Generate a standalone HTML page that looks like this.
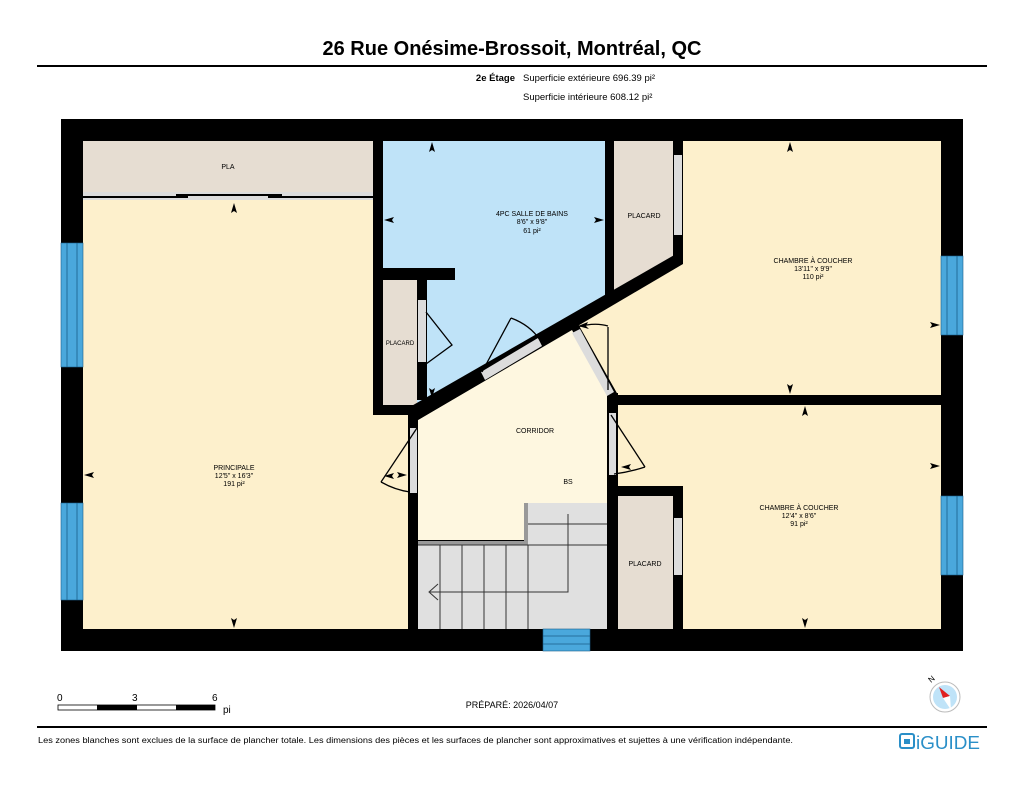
<!DOCTYPE html>
<html><head><meta charset="utf-8"><style>
body{margin:0;background:#fff;width:1024px;height:791px;overflow:hidden;font-family:"Liberation Sans",Arial,sans-serif}
svg{position:absolute;left:0;top:0}
</style></head><body>
<svg width="1024" height="791" viewBox="0 0 1024 791" font-family="Liberation Sans, Arial, sans-serif">
<text x="512" y="55" font-size="20" font-weight="bold" text-anchor="middle">26 Rue Onésime-Brossoit, Montréal, QC</text>
<rect x="37" y="65" width="950" height="2" fill="#000"/>
<text x="515" y="81" font-size="9.5" font-weight="bold" text-anchor="end">2e Étage</text>
<text x="523" y="81" font-size="9.5">Superficie extérieure 696.39 pi²</text>
<text x="523" y="100" font-size="9.5">Superficie intérieure 608.12 pi²</text>

<rect x="61" y="119" width="902" height="532" fill="#000"/>
<rect x="83" y="141" width="290" height="51" fill="#e6ddd2"/>
<rect x="83" y="192" width="290" height="8" fill="#dcdcdc"/>
<rect x="83" y="200" width="325" height="429" fill="#fdf0cc"/>
<rect x="83" y="200" width="290" height="215" fill="#fdf0cc"/>
<polygon points="383,141 605,141 605,296 413,407 413,415 383,415" fill="#bfe3f8"/>
<polygon points="614,141 673,141 673,260 614,292" fill="#e6ddd2"/>
<polygon points="683,141 941,141 941,395 618,395 577,322 683,262" fill="#fdf0cc"/>
<rect x="617" y="405" width="324" height="224" fill="#fdf0cc"/>
<rect x="617" y="496" width="56" height="133" fill="#e6ddd2"/>
<polygon points="418,420 572,330 610,400 610,503 528,503 528,540 418,540" fill="#fef7e0"/>
<polygon points="528,503 610,503 610,629 418,629 418,545 528,545" fill="#e0e0e0"/>
<polyline points="418,543 526,543 526,503" fill="none" stroke="#999" stroke-width="4"/>
<rect x="383" y="280" width="34" height="125" fill="#e6ddd2"/>
<g stroke="#333" stroke-width="1" fill="none">
<line x1="528" y1="524" x2="610" y2="524"/>
<line x1="418" y1="545" x2="610" y2="545"/>
<line x1="440" y1="545" x2="440" y2="629"/>
<line x1="462" y1="545" x2="462" y2="629"/>
<line x1="484" y1="545" x2="484" y2="629"/>
<line x1="506" y1="545" x2="506" y2="629"/>
<line x1="528" y1="545" x2="528" y2="629"/>
<polyline points="568,514 568,592 430,592"/>
<polyline points="438,584 429,592 438,600"/>
</g>
<g fill="#000">
<rect x="373" y="141" width="10" height="274"/>
<rect x="373" y="405" width="45" height="10"/>
<rect x="383" y="268" width="72" height="12"/>
<rect x="417" y="280" width="10" height="120"/>
<rect x="605" y="141" width="9" height="160"/>
<rect x="673" y="141" width="10" height="122"/>
<polygon points="408,408 683,250 683,264 418,420"/>
<rect x="408" y="415" width="10" height="214"/>
<rect x="610" y="395" width="331" height="10"/>
<rect x="607" y="393" width="11" height="236"/>
<rect x="610" y="486" width="73" height="10"/>
<rect x="673" y="486" width="10" height="143"/>
</g>
<g fill="#dcdcdc">
<rect x="674" y="155" width="8" height="80"/>
<rect x="418" y="300" width="8" height="62"/>
<rect x="674" y="518" width="8" height="57"/>
<rect x="410" y="428" width="7" height="65"/>
<rect x="609" y="413" width="7" height="62"/>
<polygon points="481,372 538,338 542,346 485,380"/>
<polygon points="572,333 580,329 614,392 607,396"/>
</g>
<g fill="#4aa8dc" stroke="#1a5f8a" stroke-width="0.6">
<rect x="61" y="243" width="22" height="124"/>
<rect x="61" y="503" width="22" height="97"/>
<rect x="941" y="256" width="22" height="79"/>
<rect x="941" y="496" width="22" height="79"/>
<rect x="543" y="629" width="47" height="22"/>
</g>
<g stroke="#1a5f8a" stroke-width="0.8">
<line x1="67" y1="243" x2="67" y2="367"/><line x1="77" y1="243" x2="77" y2="367"/>
<line x1="67" y1="503" x2="67" y2="600"/><line x1="77" y1="503" x2="77" y2="600"/>
<line x1="947" y1="256" x2="947" y2="335"/><line x1="957" y1="256" x2="957" y2="335"/>
<line x1="947" y1="496" x2="947" y2="575"/><line x1="957" y1="496" x2="957" y2="575"/>
<line x1="543" y1="636" x2="590" y2="636"/><line x1="543" y1="644" x2="590" y2="644"/>
</g>
<rect x="83" y="196" width="290" height="2" fill="#000"/>
<rect x="176" y="194" width="106" height="2" fill="#000"/>
<rect x="188" y="196" width="80" height="3" fill="#dcdcdc"/>
<g stroke="#000" stroke-width="1.3" fill="none">
<polyline points="426,312 452,345 426,364"/>
<line x1="482" y1="372" x2="511" y2="318"/>
<path d="M511,318 Q530,325 540,340"/>
<line x1="417" y1="428" x2="381" y2="482"/>
<path d="M381,482 Q395,490 410,492"/>
<line x1="611" y1="415" x2="645" y2="467"/>
<path d="M645,467 Q630,472 614,474"/>
<line x1="608" y1="327" x2="608" y2="390"/>
<path d="M577,327 Q595,322 608,326"/>
</g>
<g fill="#000">
<polygon points="432,142 429,152 432,150 435,152"/>
<polygon points="384,220 394,217 392,220 394,223"/>
<polygon points="604,220 594,217 596,220 594,223"/>
<polygon points="234,203 231,213 234,211 237,213"/>
<polygon points="84,475 94,472 92,475 94,478"/>
<polygon points="407,475 397,472 399,475 397,478"/>
<polygon points="234,628 231,618 234,620 237,618"/>
<polygon points="790,142 787,152 790,150 793,152"/>
<polygon points="790,394 787,384 790,386 793,384"/>
<polygon points="940,325 930,322 932,325 930,328"/>
<polygon points="805,406 802,416 805,414 808,416"/>
<polygon points="940,466 930,463 932,466 930,469"/>
<polygon points="805,628 802,618 805,620 808,618"/>
<polygon points="432,398 429,388 432,390 435,388"/>
<polygon points="384,476 394,473 392,476 394,479"/>
<polygon points="621,467 631,464 629,467 631,470"/>
<polygon points="578,326 588,322 586,326 589,329"/>
</g>
<g font-size="7" text-anchor="middle" fill="#000">
<text x="228" y="169">PLA</text>
<text x="532" y="216">4PC SALLE DE BAINS</text><text x="532" y="224">8'6" x 9'8"</text><text x="532" y="233">61 pi²</text>
<text x="644" y="218">PLACARD</text>
<text x="400" y="345" font-size="6">PLACARD</text>
<text x="813" y="263">CHAMBRE À COUCHER</text><text x="813" y="271">13'11" x 9'9"</text><text x="813" y="279">110 pi²</text>
<text x="535" y="433">CORRIDOR</text>
<text x="568" y="484">BS</text>
<text x="234" y="470">PRINCIPALE</text><text x="234" y="478">12'5" x 16'3"</text><text x="234" y="486">191 pi²</text>
<text x="799" y="510">CHAMBRE À COUCHER</text><text x="799" y="518">12'4" x 8'6"</text><text x="799" y="526">91 pi²</text>
<text x="645" y="566">PLACARD</text>
</g>
<g font-size="10">
<text x="57" y="701">0</text><text x="132" y="701">3</text><text x="212" y="701">6</text>
<text x="223" y="713">pi</text>
</g>
<rect x="58" y="705" width="157" height="5" fill="#fff" stroke="#000" stroke-width="0.8"/>
<rect x="97" y="705" width="40" height="5" fill="#000"/>
<rect x="176" y="705" width="39" height="5" fill="#000"/>
<text x="512" y="708" font-size="9" text-anchor="middle">PRÉPARÉ: 2026/04/07</text>
<circle cx="945" cy="697" r="15" fill="#fff" stroke="#bbb"/>
<circle cx="945" cy="697" r="12" fill="#bfe3f8"/>
<polygon points="939,687 950,696 943,698" fill="#e02020"/>
<polygon points="943,698 950,696 951,710" fill="#fff"/>
<text x="931" y="683" font-size="8" transform="rotate(-40 931 683)">N</text>
<rect x="37" y="726" width="950" height="2" fill="#000"/>
<text x="38" y="743" font-size="8" textLength="755" lengthAdjust="spacingAndGlyphs">Les zones blanches sont exclues de la surface de plancher totale. Les dimensions des pièces et les surfaces de plancher sont approximatives et sujettes à une vérification indépendante.</text>
<rect x="900" y="734" width="14" height="14" rx="2" fill="none" stroke="#2a8fc8" stroke-width="2"/>
<rect x="904" y="739" width="6" height="5" fill="#2a8fc8"/>
<text x="916" y="749" font-size="18" fill="#2a8fc8" textLength="64" lengthAdjust="spacingAndGlyphs">iGUIDE</text>
</svg>
</body></html>
